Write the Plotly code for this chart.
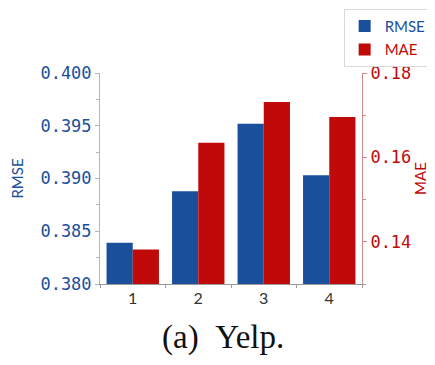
import plotly.graph_objects as go

categories = ["1", "2", "3", "4"]
rmse = [0.3839, 0.3888, 0.3952, 0.3903]
mae = [0.1382, 0.1635, 0.1731, 0.1696]

BLUE = "#1a4f9c"
RED = "#c00a0a"

fig = go.Figure()
fig.add_trace(go.Bar(x=categories, y=rmse, name=f"<span style='color:{BLUE}'>RMSE</span>",
                     marker_color=BLUE, marker_line_width=0, yaxis="y", offsetgroup=0,
                     legendgroup="a"))
fig.add_trace(go.Bar(x=categories, y=mae, name=f"<span style='color:{RED}'>MAE</span>",
                     marker_color=RED, marker_line_width=0, yaxis="y2", offsetgroup=1,
                     legendgroup="b"))

fig.update_layout(
    width=427, height=349,
    margin=dict(l=92, r=73, t=65, b=73, autoexpand=False),
    paper_bgcolor="white", plot_bgcolor="white",
    barmode="group", bargap=0.2, bargroupgap=0,
    showlegend=True,
    legend=dict(x=0.93, y=1.305, xref="paper", yref="paper", xanchor="left", yanchor="top",
                bordercolor="#d8d8d8", borderwidth=1, bgcolor="white",
                font=dict(family="Lato", size=15), traceorder="grouped", tracegroupgap=1,
                itemwidth=30),
    xaxis=dict(type="category", showline=True, linecolor="#9a9a9a", linewidth=1,
               ticks="outside", tickson="boundaries", ticklen=3, tickcolor="#9a9a9a",
               tickfont=dict(family="Lato", size=16, color="#333333"),
               showgrid=False, zeroline=False),
    yaxis=dict(range=[0.380, 0.400], dtick=0.005, tickformat=".3f",
               showline=True, linecolor="#a8b8cc", linewidth=1,
               ticks="outside", ticklen=4, tickcolor="#a8b8cc",
               minor=dict(dtick=0.0025, ticks="outside", ticklen=3, tickcolor="#a8b8cc"),
               tickfont=dict(family="DejaVu Sans Mono", size=17, color=BLUE),
               title=dict(text="RMSE", font=dict(family="Lato", size=15, color=BLUE), standoff=18),
               showgrid=False, zeroline=False),
    yaxis2=dict(range=[0.13, 0.18], dtick=0.02, tickformat=".2f", overlaying="y", side="right",
                showline=True, linecolor="#d08a8a", linewidth=1,
                ticks="outside", ticklen=4, tickcolor="#d08a8a",
                tick0=0.14,
                minor=dict(dtick=0.01, ticks="outside", ticklen=3, tickcolor="#d08a8a"),
                tickfont=dict(family="DejaVu Sans Mono", size=17, color=RED),
                title=dict(text="MAE", font=dict(family="Lato", size=15, color=RED), standoff=2),
                showgrid=False, zeroline=False),
)

fig.add_annotation(text="(a)&nbsp;&nbsp;Yelp.", x=0.469, y=-0.255, xref="paper", yref="paper",
                   xanchor="center", yanchor="middle", showarrow=False,
                   font=dict(family="Liberation Serif", size=33, color="#111111"))

fig.write_html("out.html")
